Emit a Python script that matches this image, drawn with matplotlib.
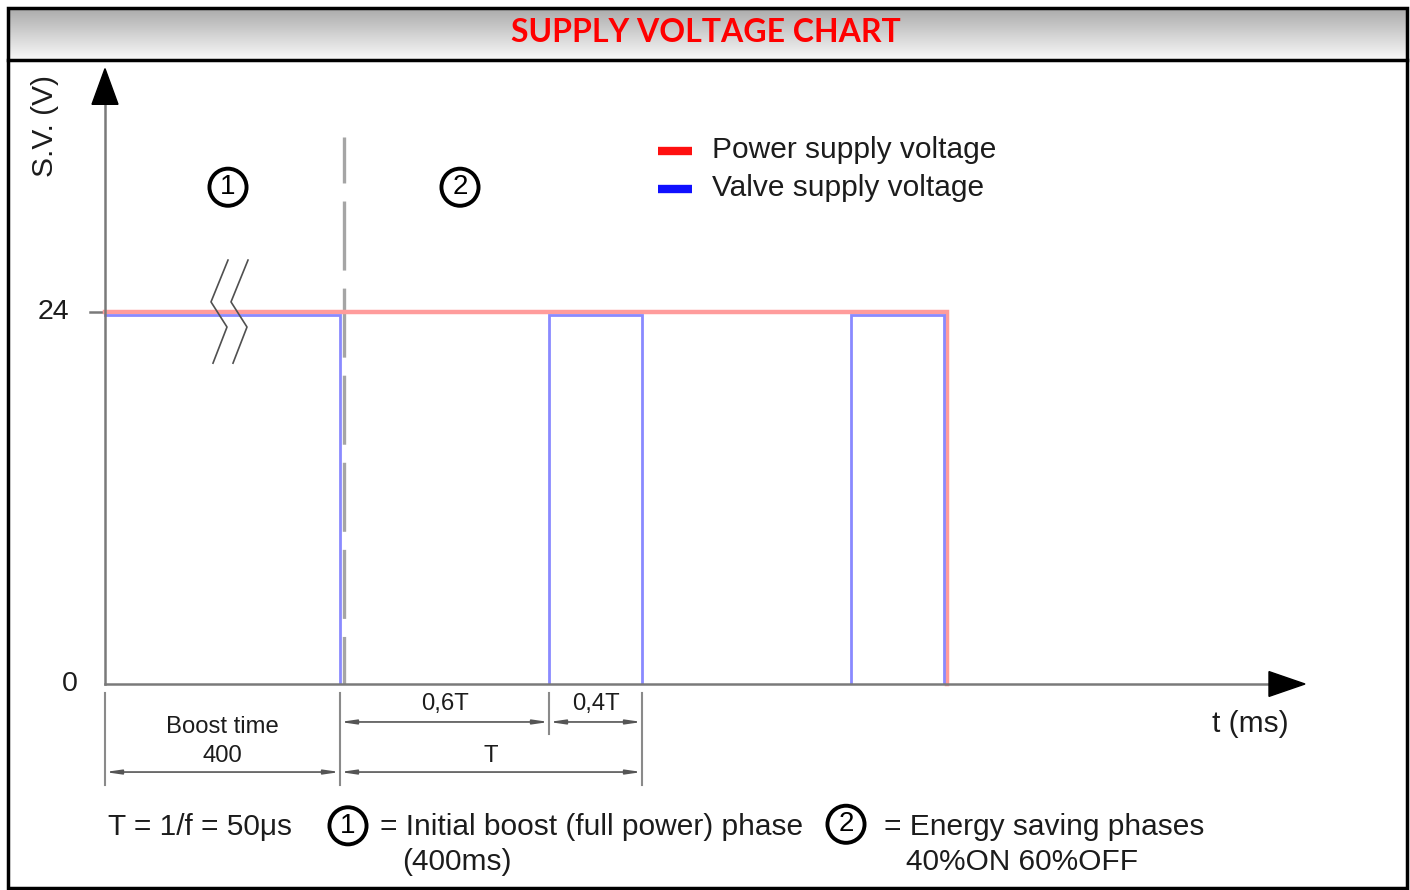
import numpy as np
import matplotlib
matplotlib.use("Agg")
import matplotlib.pyplot as plt
from matplotlib.patches import Polygon, Rectangle
from matplotlib.colors import LinearSegmentedColormap
from matplotlib.transforms import ScaledTranslation

plt.rcParams["lines.scale_dashes"] = False

# ---- data -------------------------------------------------------------
title = "SUPPLY VOLTAGE CHART"
supply_level = 24          # V
boost_end = 2.35           # schematic time units
pulse_starts = [4.44, 7.46]
pulse_width = 0.93
supply_off = 8.42
y_ticks = [0, 24]
series_names = ["Power supply voltage", "Valve supply voltage"]
dim_labels = ["Boost time", "400", "0,6T", "0,4T", "T"]
footnotes = ["T = 1/f = 50μs",
             "= Initial boost (full power) phase", "(400ms)",
             "= Energy saving phases", "40%ON 60%OFF"]

# ---- figure -----------------------------------------------------------
W, H, DPI = 1410, 890, 100
fig = plt.figure(figsize=(W / DPI, H / DPI), dpi=DPI)
fig.patch.set_facecolor("white")
FONT = ["Liberation Sans", "DejaVu Sans"]
TXT = "#1c1c1c"
AX_GRAY = "#7a7a7a"
BIG = 21.5

# frame + header band in pixel coordinates
frame = fig.add_axes([0, 0, 1, 1])
frame.set_xlim(0, W)
frame.set_ylim(H, 0)
frame.axis("off")
grad = np.linspace(0, 1, 64).reshape(-1, 1)
frame.imshow(grad, extent=[9, 1406, 59, 8],
             cmap=LinearSegmentedColormap.from_list("hdr", ["#ababab", "#f7f7f7"]),
             aspect="auto", zorder=0)
frame.add_patch(Rectangle((8, 7.5), 1399, 880, fill=False, ec="black", lw=2.5, zorder=5))
frame.plot([8, 1407], [59.5, 59.5], color="black", lw=2.5, zorder=5)
frame.text(706, 32, title, color="#ff0000", fontsize=23, fontweight="bold",
           family=["Lato", "DejaVu Sans"], ha="center", va="center", zorder=6)

# main schematic axes (t horizontally, voltage vertically)
x0, x1 = -0.97, 13.02
vpp = 24 / 372.0
ylo, yhi = -(888 - 684) * vpp, (684 - 60) * vpp
ax = fig.add_axes([8 / W, 2 / H, 1399 / W, 828 / H])
ax.set_xlim(x0, x1)
ax.set_ylim(ylo, yhi)
ax.axis("off")

# axes with arrowheads
t_end = 12.0
v_end = 39.7
ax.plot([0, 0], [0, v_end - 2], color=AX_GRAY, lw=1.8, zorder=6)
ax.plot([0, t_end - 0.34], [0, 0], color=AX_GRAY, lw=1.8, zorder=6)
ax.add_patch(Polygon([[0, v_end], [-0.13, v_end - 2.3], [0.13, v_end - 2.3]],
                     closed=True, color="black", zorder=7))
ax.add_patch(Polygon([[t_end, 0], [t_end - 0.36, 0.8], [t_end - 0.36, -0.8]],
                     closed=True, color="black", zorder=7))

# y ticks and labels
ax.plot([-0.15, 0], [supply_level, supply_level], color=AX_GRAY, lw=1.8, zorder=2)
ax.text(-0.52, supply_level, str(y_ticks[1]), fontsize=20.5, family=FONT, color=TXT,
        ha="center", va="center")
ax.text(-0.35, 0, str(y_ticks[0]), fontsize=20.5, family=FONT, color=TXT,
        ha="center", va="center")
ax.text(-0.6, 36.0, "S.V. (V)", rotation=90, fontsize=BIG, family=FONT, color=TXT,
        ha="center", va="center")
ax.text(11.45, -2.55, "t (ms)", fontsize=BIG, family=FONT, color=TXT,
        ha="center", va="center")

# power supply voltage
t_red = [0, supply_off, supply_off]
v_red = [supply_level, supply_level, 0]
ax.plot(t_red, v_red, color="#ff9c9c", lw=3.2, zorder=4, solid_joinstyle="miter")

# valve supply voltage (PWM after the boost phase), drawn just under the supply trace
t_blue = [0, boost_end, boost_end]
v_blue = [supply_level, supply_level, 0]
for s in pulse_starts:
    t_blue += [s, s, s + pulse_width, s + pulse_width]
    v_blue += [0, supply_level, supply_level, 0]
shift = ScaledTranslation(0, -2.5 / DPI, fig.dpi_scale_trans)
blue, = ax.plot(t_blue, v_blue, color="#8a8aff", lw=2.0, zorder=5,
                transform=ax.transData + shift, solid_joinstyle="miter")
clip = Rectangle((x0, 0), x1 - x0, yhi, transform=ax.transData, visible=False)
ax.add_patch(clip)
blue.set_clip_path(clip)

# phase separator (drawn top-down so the dash pattern starts at the top)
ax.plot([2.39, 2.39], [35.3, 0], color="#a5a5a5", lw=2.4, zorder=3,
        linestyle=(16.6, (49.7, 13.0)))

# break marks on the boost segment
zig = np.array([[1.23, 27.35], [1.06, 24.65], [1.22, 23.03], [1.08, 20.7]])
for dx in (0.0, 0.2):
    ax.plot(zig[:, 0] + dx, zig[:, 1], color="#505050", lw=1.2, zorder=6)

# phase markers
def circled(x, y, s, size=20):
    ax.text(x, y, s, fontsize=size, family=FONT, color="black", ha="center", va="center",
            bbox=dict(boxstyle="circle,pad=0.2", fc="none", ec="black", lw=2.8))

circled(1.23, 32.05, "1")
circled(3.55, 32.05, "2")

# legend
leg_t = 5.53
for i, (name, col) in enumerate(zip(series_names, ["#ff1010", "#1010ff"])):
    vy = 34.4 - i * 2.47
    ax.plot([leg_t, leg_t + 0.34], [vy, vy], color=col, lw=6, solid_capstyle="butt")
    ax.text(leg_t + 0.54, vy + 0.05, name, fontsize=BIG, family=FONT, color=TXT,
            ha="left", va="center")

# dimension lines
ext_col = "#8a8a8a"
ext_top = -0.55
for tx, bottom in [(0, -6.5), (boost_end, -6.5), (pulse_starts[0], -3.25),
                   (pulse_starts[0] + pulse_width, -6.5)]:
    ax.plot([tx, tx], [ext_top, bottom], color=ext_col, lw=1.5)

DIM = 17.2

def dim(a, b, y):
    ax.annotate("", xy=(a, y), xytext=(b, y),
                arrowprops=dict(arrowstyle="<|-|>,head_length=0.9,head_width=0.13",
                                color="#555555", lw=1.2, shrinkA=0, shrinkB=0))

def dim_text(x, y, s):
    ax.text(x, y, s, fontsize=DIM, family=FONT, color=TXT, ha="center", va="center")

dim(0, boost_end, -5.68)
dim(boost_end, pulse_starts[0], -2.45)
dim(pulse_starts[0], pulse_starts[0] + pulse_width, -2.45)
dim(boost_end, pulse_starts[0] + pulse_width, -5.68)
dim_text(boost_end / 2, -2.77, dim_labels[0])
dim_text(boost_end / 2, -4.65, dim_labels[1])
dim_text((boost_end + pulse_starts[0]) / 2, -1.29, dim_labels[2])
dim_text(pulse_starts[0] + pulse_width / 2, -1.29, dim_labels[3])
dim_text((boost_end + pulse_starts[0] + pulse_width) / 2, -4.65, dim_labels[4])

# footnotes
fy = -9.2
def note(x, y, s):
    ax.text(x, y, s, fontsize=BIG, family=FONT, color=TXT, ha="left", va="center")

note(0.03, fy, footnotes[0])
circled(2.43, fy + 0.05, "1")
note(2.75, fy, footnotes[1])
note(2.97, fy - 2.3, footnotes[2])
circled(7.41, fy + 0.15, "2")
note(7.79, fy, footnotes[3])
note(8.01, fy - 2.3, footnotes[4])

fig.savefig("out.png", dpi=DPI)
